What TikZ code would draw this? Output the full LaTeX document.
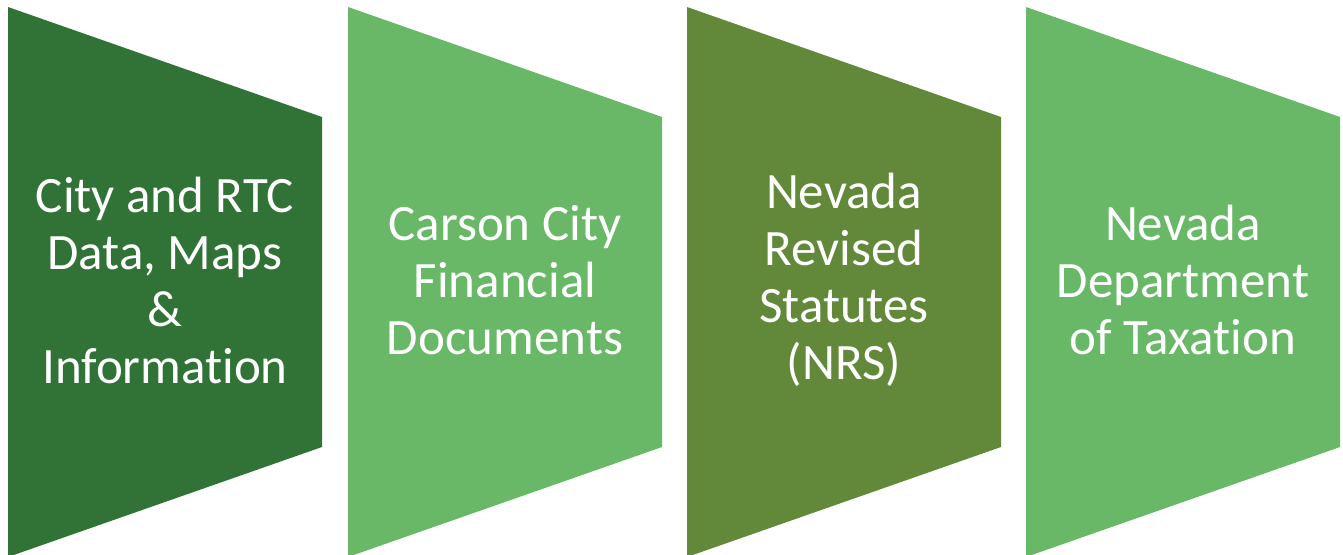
\documentclass[tikz,border=0pt]{standalone}
\usepackage{fontspec}
\setmainfont{Carlito}[Ligatures=CommonOff]
\usepackage{xcolor}
\definecolor{forestgreen}{HTML}{317337}
\definecolor{leafgreen}{HTML}{68B868}
\definecolor{olivegreen}{HTML}{62883A}
\tikzset{
  boxtext/.style={text=white, align=center, inner sep=0pt,
    font=\fontsize{51}{57}\selectfont}
}

\begin{document}
\begin{tikzpicture}[x=1pt,y=-1pt]
	\useasboundingbox (0,0) rectangle (1343,554);
    \foreach \i/\x/\col/\txt in {
        1/8/forestgreen/{City and RTC\\Data, Maps\\\&\\Information},
        2/348/leafgreen/{Carson City\\Financial\\Documents},
        3/687/olivegreen/{Nevada\\Revised\\Statutes\\(NRS)},
        4/1026/leafgreen/{Nevada\\Department\\of Taxation}}
    {
        \fill[\col] (\x,7) -- (\x+314,117) -- (\x+314,447) -- (\x,557) -- cycle;
        \node[boxtext] (source\i) at (\x+157,280) {\txt};
    }
\end{tikzpicture}
\end{document}
